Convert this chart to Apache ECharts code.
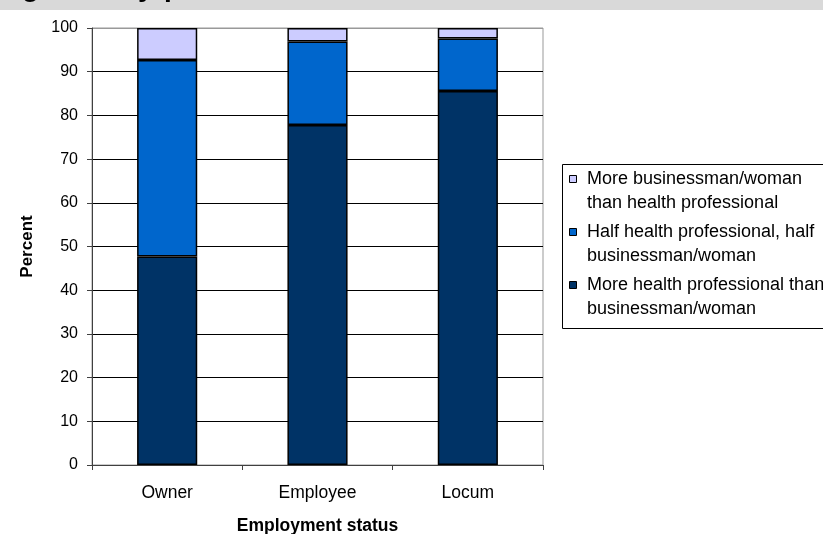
<!DOCTYPE html>
<html><head><meta charset="utf-8">
<script src="https://cdn.jsdelivr.net/npm/echarts@6/dist/echarts.min.js"></script>
<style>html,body{margin:0;padding:0;background:#fff}#c{width:823px;height:534px}</style>
</head><body><div id="c"></div>
<script>
const categories = ['Owner', 'Employee', 'Locum'];
const moreHealth = [47.7, 77.8, 85.6];
const halfHalf = [45.0, 19.1, 12.0];
const moreBusiness = [7.3, 3.1, 2.4];
const seriesNames = [
  'More health professional than\nbusinessman/woman',
  'Half health professional, half\nbusinessman/woman',
  'More businessman/woman\nthan health professional'
];
const yTicks = [0, 10, 20, 30, 40, 50, 60, 70, 80, 90, 100];

const colors = ['#003366', '#0066cc', '#ccccff'];
const font = '"Liberation Sans", Arial, sans-serif';
const chart = echarts.init(document.getElementById('c'), null, {renderer: 'canvas'});

const gridColors = yTicks.map((v, i) => i === yTicks.length - 1 ? '#999' : '#000');

function mkSeries(name, data, i) {
  return {
    name, type: 'bar', stack: 's', data, barWidth: '40%',
    itemStyle: {color: colors[i], borderColor: '#000', borderWidth: 1.5},
    emphasis: {disabled: true}, animation: false
  };
}

// legend drawn top-down: light, mid, dark
const legendOrder = [2, 1, 0];
const legendGraphics = [{
  type: 'rect', left: 562, top: 164,
  shape: {width: 300, height: 164},
  style: {fill: '#fff', stroke: '#000', lineWidth: 1}
}];
legendOrder.forEach((si, k) => {
  const y0 = 167 + k * 53;
  legendGraphics.push({
    type: 'rect', left: 569, top: y0 + 8,
    shape: {width: 7, height: 7},
    style: {fill: colors[si], stroke: '#000', lineWidth: 1}
  });
  legendGraphics.push({
    type: 'text', left: 587, top: y0,
    style: {text: seriesNames[si], font: '18px ' + font, fill: '#000', lineHeight: 24}
  });
});

chart.setOption({
  animation: false,
  grid: {left: 92, top: 28, right: 280, bottom: 69, outerBoundsMode: 'none', containLabel: false,
         show: true, borderColor: '#999', borderWidth: 1, backgroundColor: '#fff'},
  xAxis: {
    type: 'category', data: categories,
    name: 'Employment status', nameLocation: 'middle', nameGap: 52,
    nameTextStyle: {fontFamily: 'Liberation Sans', fontSize: 17.5, fontWeight: 'bold', color: '#000'},
    axisLine: {lineStyle: {color: '#404040', width: 1}},
    axisTick: {show: true, alignWithLabel: false, length: 5, lineStyle: {color: '#404040'}},
    axisLabel: {fontFamily: 'Liberation Sans', fontSize: 17.5, color: '#000', margin: 19}
  },
  yAxis: {
    type: 'value', min: 0, max: 100, interval: 10,
    name: 'Percent', nameLocation: 'middle', nameGap: 56,
    nameTextStyle: {fontFamily: 'Liberation Sans', fontSize: 17, fontWeight: 'bold', color: '#000'},
    axisLine: {show: true, lineStyle: {color: '#404040', width: 1}},
    axisTick: {show: true, length: 5, lineStyle: {color: '#404040'}},
    axisLabel: {fontFamily: 'Liberation Sans', fontSize: 16, color: '#000', margin: 14},
    splitLine: {show: true, lineStyle: {color: gridColors, width: 1}}
  },
  series: [
    mkSeries(seriesNames[0], moreHealth, 0),
    mkSeries(seriesNames[1], halfHalf, 1),
    mkSeries(seriesNames[2], moreBusiness, 2)
  ],
  graphic: [
    {type: 'rect', left: 0, top: 0, shape: {width: 823, height: 10}, style: {fill: '#d9d9d9'}, z: 0},
    {type: 'text', x: 22, y: -26, style: {text: 'g', font: 'bold 28px ' + font, fill: '#000'}, z: 1},
    {type: 'text', x: 138, y: -26, style: {text: 'y', font: 'bold 28px ' + font, fill: '#000'}, z: 1},
    {type: 'text', x: 164, y: -26, style: {text: 'p', font: 'bold 28px ' + font, fill: '#000'}, z: 1}
  ].concat(legendGraphics)
});
</script></body></html>
